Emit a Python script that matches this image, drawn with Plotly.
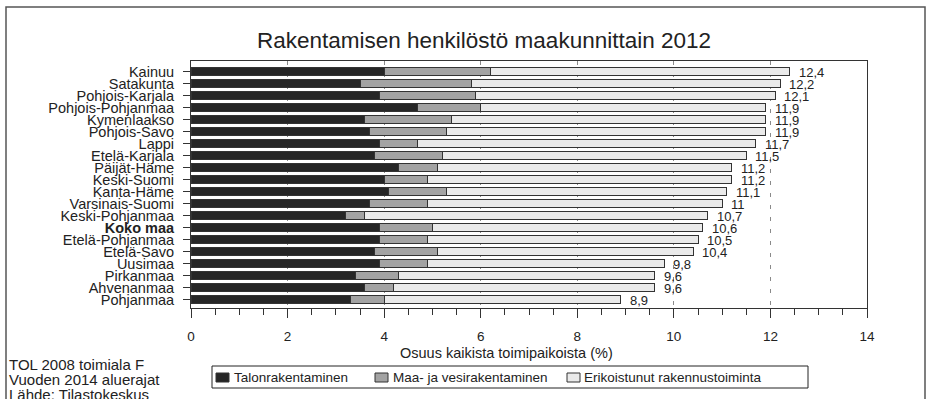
import plotly.graph_objects as go

regions = ["Kainuu", "Satakunta", "Pohjois-Karjala", "Pohjois-Pohjanmaa", "Kymenlaakso",
           "Pohjois-Savo", "Lappi", "Etelä-Karjala", "Päijät-Häme", "Keski-Suomi",
           "Kanta-Häme", "Varsinais-Suomi", "Keski-Pohjanmaa", "Koko maa", "Etelä-Pohjanmaa",
           "Etelä-Savo", "Uusimaa", "Pirkanmaa", "Ahvenanmaa", "Pohjanmaa"]
talonrakentaminen = [4.0, 3.5, 3.9, 4.7, 3.6, 3.7, 3.9, 3.8, 4.3, 4.0,
                     4.1, 3.7, 3.2, 3.9, 3.9, 3.8, 3.9, 3.4, 3.6, 3.3]
maa_vesi = [2.2, 2.3, 2.0, 1.3, 1.8, 1.6, 0.8, 1.4, 0.8, 0.9,
            1.2, 1.2, 0.4, 1.1, 1.0, 1.3, 1.0, 0.9, 0.6, 0.7]
erikoistunut = [6.2, 6.4, 6.2, 5.9, 6.5, 6.6, 7.0, 6.3, 6.1, 6.3,
                5.8, 6.1, 7.1, 5.6, 5.6, 5.3, 4.9, 5.3, 5.4, 4.9]
totals = [12.4, 12.2, 12.1, 11.9, 11.9, 11.9, 11.7, 11.5, 11.2, 11.2,
          11.1, 11.0, 10.7, 10.6, 10.5, 10.4, 9.8, 9.6, 9.6, 8.9]
series_names = ["Talonrakentaminen", "Maa- ja vesirakentaminen", "Erikoistunut rakennustoiminta"]
x_ticks = [0, 2, 4, 6, 8, 10, 12, 14]
notes = ["TOL 2008 toimiala F", "Vuoden 2014 aluerajat", "Lähde: Tilastokeskus"]

FONT = "Arial, 'Liberation Sans', sans-serif"
LINE = "#333333"
COLORS = ["#262626", "#a3a3a3", "#eaeaea"]

# plot-area pixel geometry (used to place layout furniture only)
L, R, T, B = 191, 867, 61, 308
W, H = R - L, B - T
def px(x):
    return (x - L) / W
def py(y):
    return (B - y) / H

fig = go.Figure()
for name, vals, col in zip(series_names, [talonrakentaminen, maa_vesi, erikoistunut], COLORS):
    fig.add_trace(go.Bar(y=regions, x=vals, name=name, orientation="h", showlegend=False,
                         marker=dict(color=col, line=dict(color=LINE, width=1))))

def fmt(v):
    s = ("%.1f" % v).replace(".", ",")
    return s[:-2] if s.endswith(",0") else s

for r, t in zip(regions, totals):
    fig.add_annotation(x=t, y=r, xref="x", yref="y", text=fmt(t), showarrow=False,
                       xanchor="left", xshift=7, yshift=-1,
                       font=dict(size=13, color="#222", family=FONT))

ticktext = ["<b>%s</b>" % r if r == "Koko maa" else r for r in regions]

fig.update_layout(
    width=931, height=399,
    margin=dict(l=L, r=931 - R, t=T, b=399 - B, autoexpand=False),
    paper_bgcolor="white", plot_bgcolor="white",
    barmode="stack", bargap=0.27,
    font=dict(family=FONT, color="#222", size=13),
    title=dict(text="Rakentamisen henkilöstö maakunnittain 2012",
               x=484 / 931, xref="container", xanchor="center",
               y=1 - 40 / 399, yref="container", yanchor="middle",
               font=dict(size=22.5, color="#222", family=FONT)),
    showlegend=False,
    xaxis=dict(range=[0, 14], tickvals=x_ticks, ticktext=[str(v) for v in x_ticks],
               ticks="outside", ticklen=9, tickcolor=LINE, ticklabelstandoff=7,
               minor=dict(dtick=0.5, ticks="outside", ticklen=6, tickcolor=LINE, showgrid=False),
               showgrid=True, gridcolor="#8a8a8a", griddash="4px,8px", gridwidth=1,
               showline=True, linecolor=LINE, linewidth=1, mirror=True, zeroline=False,
               tickfont=dict(size=13.5)),
    yaxis=dict(categoryorder="array", categoryarray=regions, autorange="reversed",
               tickvals=regions, ticktext=ticktext, ticks="outside", ticklen=7,
               tickcolor=LINE, ticklabelstandoff=6,
               showline=True, linecolor=LINE, linewidth=1, mirror=True,
               tickfont=dict(size=14.5)),
)

fig.add_annotation(text="Osuus kaikista toimipaikoista (%)", xref="paper", yref="paper",
                   x=px(506), y=py(353), showarrow=False,
                   xanchor="center", yanchor="middle", font=dict(size=14.5, family=FONT))
for i, n in enumerate(notes):
    fig.add_annotation(text=n, xref="paper", yref="paper",
                       x=px(7), y=py(364 + 15 * i), showarrow=False,
                       xanchor="left", yanchor="middle", font=dict(size=15, family=FONT))

# legend drawn manually (box, swatches, labels)
fig.add_shape(type="rect", xref="paper", yref="paper",
              x0=px(212), x1=px(808), y0=py(388), y1=py(366),
              line=dict(color="#222", width=1), fillcolor="white")
sw_x = [216, 375, 567]
tx_x = [232, 391, 582]
for name, col, sx, tx in zip(series_names, COLORS, sw_x, tx_x):
    fig.add_shape(type="rect", xref="paper", yref="paper",
                  x0=px(sx), x1=px(sx + 13), y0=py(382), y1=py(373),
                  line=dict(color=LINE, width=1), fillcolor=col)
    fig.add_annotation(text=name, xref="paper", yref="paper", x=px(tx), y=py(377.5),
                       showarrow=False, xanchor="left", yanchor="middle",
                       font=dict(size=13.5, family=FONT))

fig.add_shape(type="rect", xref="paper", yref="paper",
              x0=px(6), x1=px(925), y0=py(420), y1=py(7),
              line=dict(color="#555", width=1.5), layer="below")

fig.write_html("out.html", config={"displayModeBar": False},
               post_script="document.body.style.margin='0';document.body.style.overflow='hidden';")
